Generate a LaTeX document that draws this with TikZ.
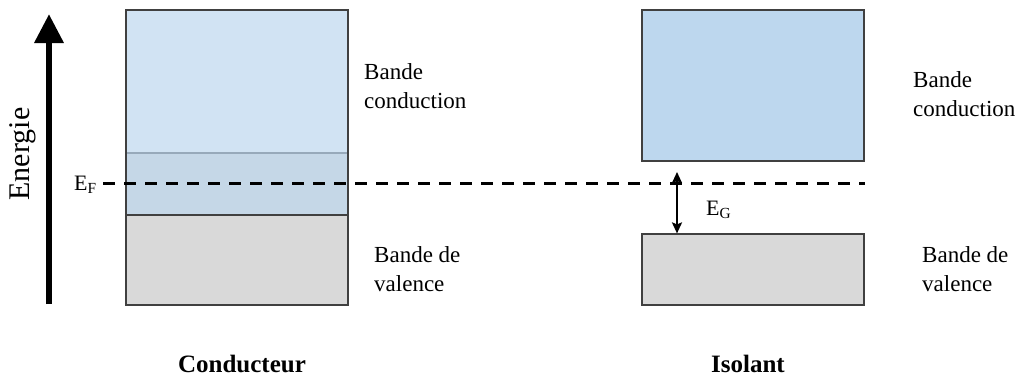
\documentclass[tikz,border=0pt]{standalone}
\usepackage{fontspec}
\setmainfont{Liberation Serif}
\usetikzlibrary{arrows.meta}

\definecolor{condblue}{HTML}{BDD7EE}
\definecolor{valgrey}{HTML}{D9D9D9}
\definecolor{bandedge}{HTML}{404040}

\tikzset{
  band/.style={draw=bandedge,line width=1.2pt,inner sep=0pt,minimum width=222pt},
  bandlabel/.style={anchor=west,align=left,inner sep=0pt,font=\fontsize{23}{29}\selectfont},
  levellabel/.style={anchor=base west,inner sep=0pt,font=\fontsize{22}{26}\selectfont},
  title/.style={anchor=base,inner sep=0pt,font=\fontsize{25}{30}\selectfont\bfseries}
}

\begin{document}
\begin{tikzpicture}[x=1pt,y=-1pt]
\useasboundingbox (0,0) rectangle (1018,376);

\def\fermiy{183}

% conducteur
\node[band,fill=valgrey,minimum height=152pt] (valC) at (237,229) {};
\node[band,fill=condblue,fill opacity=0.7,minimum height=205pt] (condC) at (237,112.5) {};

% isolant
\node[band,fill=condblue,minimum height=151pt] (condI) at (753,85.5) {};
\node[band,fill=valgrey,minimum height=71pt] (valI) at (753,269.5) {};

% niveau de Fermi
\coordinate (efstart) at (103,\fermiy);
\coordinate (efend) at (865,\fermiy);
\draw[line width=3pt,dash pattern=on 12pt off 9pt] (efstart) -- (efend);

% axe energie
\coordinate (ebot) at (49,304);
\coordinate (etop) at (49,14);
\draw[line width=6.5pt,-{Triangle[length=29pt,width=28pt]}] (ebot) -- (etop);
\node[rotate=90,inner sep=0pt,font=\fontsize{30}{36}\selectfont] (energie) at (22.5,154) {Energie};

% gap
\coordinate (gtop) at (677,172);
\draw[line width=2pt,{Stealth[length=11pt,width=10pt,inset=2pt]}-{Stealth[length=11pt,width=10pt,inset=2pt]}] (gtop) -- (valI.north -| gtop);

\node[levellabel] (eflab) at (74,190) {E\textsubscript{F}};
\node[levellabel] (eglab) at (706,215) {E\textsubscript{G}};

\node[bandlabel] (condlabC) at (364,86) {Bande\\conduction};
\node[bandlabel] (vallabC) at (374,269) {Bande de\\valence};
\node[bandlabel] (condlabI) at (913,94) {Bande\\conduction};
\node[bandlabel] (vallabI) at (922,269) {Bande de\\valence};

\node[title] (titleC) at (242,372) {Conducteur};
\node[title] (titleI) at (748,372) {Isolant};

\end{tikzpicture}
\end{document}
